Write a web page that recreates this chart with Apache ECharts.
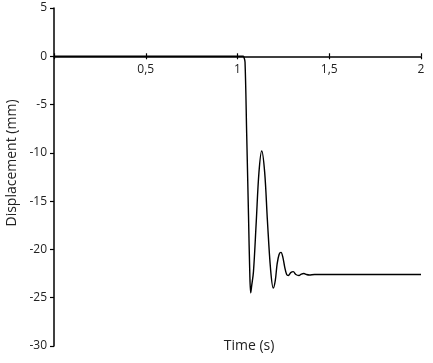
<!DOCTYPE html>
<html>
<head>
<meta charset="utf-8">
<script src="https://cdn.jsdelivr.net/npm/echarts@6/dist/echarts.min.js"></script>
<style>
  html, body { margin: 0; padding: 0; background: #fff; }
  #chartDom { width: 433px; height: 363px; }
</style>
</head>
<body>
<div id="chartDom"></div>
<script>
// données
var timeS = [0, 1.03, 1.035, 1.041, 1.05, 1.06, 1.067, 1.072, 1.077, 1.087, 1.102, 1.117, 1.132,
  1.148, 1.163, 1.18, 1.195, 1.206, 1.216, 1.227, 1.237, 1.247, 1.257, 1.268, 1.277, 1.29,
  1.304, 1.318, 1.335, 1.348, 1.362, 1.376, 1.391, 1.42, 2.0];
var displacementMm = [0, 0, -0.1, -0.6, -8, -16.5, -22.5, -24.5, -23.8, -22.3, -17.2, -12, -9.8,
  -12, -17, -22, -24, -23.2, -21.5, -20.5, -20.3, -20.8, -21.8, -22.6, -22.7, -22.4,
  -22.3, -22.6, -22.7, -22.55, -22.5, -22.6, -22.65, -22.6, -22.6];
var xTicks = [0, 0.5, 1, 1.5, 2];
var yTicks = [-30, -25, -20, -15, -10, -5, 0, 5];

var myChart = echarts.init(document.getElementById('chartDom'));

var points = timeS.map(function (t, i) { return [t, displacementMm[i]]; });
var font = 'Open Sans';
var gridTop = 8, gridBottom = 17, plotH = 363 - gridTop - gridBottom;
// l'axe des x passe par y = 0 : on le remonte depuis le bas de la grille
var zeroOffset = -plotH * (0 - yTicks[0]) / (yTicks[yTicks.length - 1] - yTicks[0]);

var option = {
  animation: false,
  grid: { left: 54, top: gridTop, right: 12, bottom: gridBottom, outerBoundsMode: 'none', containLabel: false },
  xAxis: [{
    type: 'value', position: 'bottom', offset: zeroOffset,
    min: xTicks[0], max: xTicks[xTicks.length - 1], interval: 0.5,
    axisLine: { onZero: false, lineStyle: { color: '#000', width: 1.5 } },
    axisTick: { show: true, length: 3, lineStyle: { color: '#000', width: 1.2 } },
    splitLine: { show: false },
    axisLabel: {
      margin: 7, color: '#222', fontSize: 12, fontFamily: font,
      formatter: function (v) { return v === 0 ? '' : String(v).replace('.', ','); }
    }
  }, {
    type: 'value', position: 'bottom', offset: zeroOffset,
    min: xTicks[0], max: xTicks[xTicks.length - 1], interval: 0.5,
    axisLine: { show: false, onZero: false },
    axisTick: { show: true, inside: true, length: 3, lineStyle: { color: '#000', width: 1.2 } },
    splitLine: { show: false },
    axisLabel: { show: false }
  }],
  yAxis: {
    type: 'value',
    min: yTicks[0], max: yTicks[yTicks.length - 1], interval: 5,
    axisLine: { show: true, onZero: false, lineStyle: { color: '#000', width: 1.5 } },
    axisTick: { show: true, length: 4, lineStyle: { color: '#000', width: 1.2 } },
    splitLine: { show: false },
    axisLabel: { margin: 7, color: '#222', fontSize: 12, fontFamily: font }
  },
  graphic: [{
    type: 'text', x: 249, y: 346,
    style: { text: 'Time (s)', fill: '#222', font: '14px "Open Sans"', align: 'center', verticalAlign: 'middle' }
  }, {
    type: 'text', x: 12, y: 163, rotation: Math.PI / 2,
    style: { text: 'Displacement (mm)', fill: '#222', font: '14px "Open Sans"', align: 'center', verticalAlign: 'middle' }
  }],
  series: [{
    type: 'line',
    data: points,
    smooth: 0.35,
    showSymbol: false,
    lineStyle: { color: '#000', width: 1.4 }
  }]
};

myChart.setOption(option);
</script>
</body>
</html>
